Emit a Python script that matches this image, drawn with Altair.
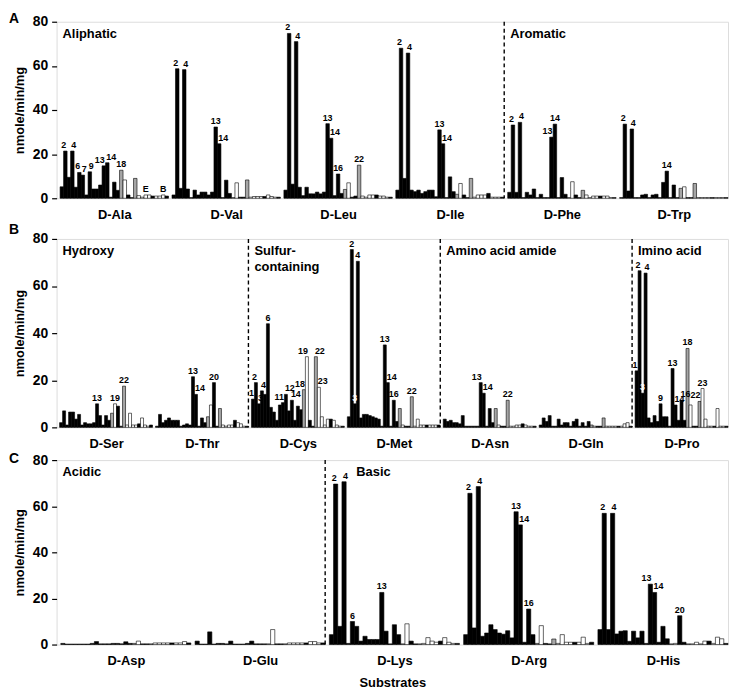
import altair as alt
import pandas as pd

# ---------------- data (nmole/min/mg), 31 enzymes/controls per substrate ----------------
D_ALA = [5.2, 21.4, 9.5, 21.4, 5, 11.7, 10.5, 1.5, 12, 4.2, 4.2, 6, 14.7, 16.1, 0.5, 7.3, 3.6, 12.7, 8.3, 1.5, 0.3, 9, 1.2, 0.5, 1.5, 1.5, 1, 1, 1, 1.5, 1]
D_VAL = [1.5, 58.7, 4.5, 58.3, 4.2, 0.3, 3.7, 1.5, 2.8, 2.8, 1.5, 2.8, 32.3, 24.7, 0.3, 8.2, 2.2, 0.3, 7, 0.5, 0.5, 8.3, 0.5, 0.8, 0.8, 0.8, 0.8, 1.5, 0.8, 0.5, 0.5]
D_LEU = [3.7, 74.7, 6.4, 71, 5, 1.2, 5, 2, 2, 2.8, 2, 2.8, 33.8, 27.2, 1.2, 11, 2.2, 4, 7, 0.5, 1, 15, 1, 0.5, 1.5, 1.5, 1.5, 1, 1, 0.5, 0.5]
D_ILE = [3.7, 68, 9, 65.8, 3.7, 3, 3.7, 2.2, 3, 3.7, 3.7, 0.7, 31, 24.7, 0.3, 9.7, 3, 1.8, 6.7, 1.5, 0.3, 9, 0.5, 1.5, 1.5, 1.5, 2.2, 0.5, 0.5, 0.5, 0.5]
D_PHE = [2.7, 33.2, 2.7, 34.4, 0.3, 2.7, 1.5, 4.2, 0.3, 1.8, 0.3, 0.3, 27.7, 33.6, 0.3, 9.4, 1.8, 0.3, 7.5, 1.5, 0.3, 3.6, 1.5, 0.3, 1, 1, 1, 1, 1, 0.3, 0.3]
D_TRP = [0.3, 33.6, 3.3, 31.4, 0.3, 0.3, 1.5, 1.8, 0.3, 1.5, 1.8, 0.3, 7.2, 12.3, 0.3, 6, 0.3, 4.5, 5.2, 0.3, 0.3, 6.7, 0.3, 0.3, 0.3, 0.3, 0.3, 0.3, 0.3, 0.3, 0.3]

D_SER = [2, 7, 1, 6.5, 6.5, 3.5, 5.5, 1, 2, 1.5, 1.5, 2, 10, 5, 1, 5, 3, 6, 10, 9, 0.5, 17.5, 1, 6, 1, 1, 1.5, 4, 1, 0.5, 1]
D_THR = [0.5, 5.5, 2, 3, 4, 3, 3, 3, 0.5, 1, 1.5, 1, 21.5, 14, 0.5, 4, 2, 4.5, 9.5, 19, 0.5, 8, 1, 0.5, 1, 1, 3, 2, 1.5, 0.5, 0.5]
D_CYS = [12, 19, 10, 15.5, 14, 44, 8.5, 6.5, 3, 9.5, 10.5, 14, 7, 11.5, 3, 9, 7.5, 16, 30, 3, 0.5, 30, 17, 4.5, 1, 3.5, 3.5, 3, 1, 0.5, 0.5]
D_MET = [4.5, 75.5, 10, 70.5, 4, 5.5, 5.5, 5, 4.5, 4, 3.5, 0.5, 35, 19, 0.5, 11.5, 2.5, 8, 1, 0.5, 0.5, 13, 0.5, 3.5, 1, 1, 1, 1, 1, 1, 1]
D_ASN = [3.5, 2.5, 3, 2, 2, 1.5, 5, 0.5, 0.5, 0.5, 0.5, 0.5, 19, 14.5, 0.5, 8, 2, 8, 1, 0.5, 0.5, 11.5, 0.5, 0.5, 1, 1, 1.5, 1, 0.5, 0.5, 0.5]
D_GLN = [1, 4, 2.5, 5, 0.5, 0.5, 3.5, 1, 2, 2, 0.5, 2.5, 3.5, 0.5, 2, 0.5, 2.5, 1, 0.5, 0.5, 0.5, 4, 0.5, 0.5, 0.5, 0.5, 0.5, 0.5, 1.5, 2, 0.5]
D_PRO = [24, 66.5, 14.5, 65.5, 4, 2, 5, 2.5, 10, 4.5, 4.5, 0.5, 25, 9.5, 3, 11.5, 3, 33.5, 9.5, 0.5, 0.5, 11, 16.5, 3.5, 0.5, 0.5, 0.5, 8, 0.5, 0.5, 0.5]

D_ASP = [0.5, 0.2, 0.2, 0.2, 0.2, 0.2, 0.2, 0.5, 1.3, 0.3, 0.3, 0.3, 0.5, 0.5, 0.3, 1.2, 0.5, 0.5, 1.5, 0.3, 0.3, 0.3, 0.7, 0.7, 0.7, 0.7, 0.7, 0.7, 0.7, 1.3, 0.7]
D_GLU = [1.5, 0.2, 0.2, 5.5, 0.2, 0.5, 0.5, 0.3, 1.5, 0.2, 0.2, 0.2, 0.5, 1.5, 0.3, 0.3, 0.3, 0.3, 6.5, 0.3, 0.3, 0.3, 0.7, 0.7, 0.7, 0.7, 0.7, 1.3, 1.3, 0.7, 0.7]
D_LYS = [4.3, 69.6, 7.9, 70.6, 0.5, 10, 7.9, 1.5, 3.6, 2.2, 2.2, 2.2, 22.6, 5.8, 0.3, 8.6, 4.3, 0.3, 9, 1.5, 0.3, 0.3, 0.5, 3, 1.5, 1, 1.5, 3, 1, 0.5, 0.5]
D_ARG = [4.3, 65.6, 7.2, 68.5, 3.6, 5, 8.6, 6.5, 5, 4.5, 6, 2.9, 57.6, 51.9, 1, 15.4, 4.3, 0.5, 8.2, 0.5, 0.3, 2.4, 0.5, 4.3, 1, 1, 1, 1, 3.2, 0.5, 1]
D_HIS = [6.5, 56.9, 6.5, 56.9, 4.6, 5.8, 6, 1.4, 5.8, 2.9, 5.8, 0.5, 26.2, 22.6, 1, 7.9, 2.5, 0.3, 0.5, 12.5, 1, 0.3, 0.3, 1, 0.3, 1.5, 1.5, 0.5, 3.2, 2.5, 0.5]

# enzyme group of each of the 31 bars: b = black, g = grey, w = white
ENZ_CLASS = ["b"] * 17 + ["g", "w", "b", "b", "g", "w", "w", "w", "w", "b", "w", "w", "w", "b"]

# numbered labels above bars
LABELS = {
    "D-Ala": {2: "2", 4: "4", 6: "6", 7: "7", 9: "9", 13: "13", 14: "14", 18: "18", 25: "E", 30: "B"},
    "D-Val": {2: "2", 4: "4", 13: "13", 14: "14"},
    "D-Leu": {2: "2", 4: "4", 13: "13", 14: "14", 16: "16", 22: "22"},
    "D-Ile": {2: "2", 4: "4", 13: "13", 14: "14"},
    "D-Phe": {2: "2", 4: "4", 13: "13", 14: "14"},
    "D-Trp": {2: "2", 4: "4", 14: "14"},
    "D-Ser": {13: "13", 19: "19", 22: "22"},
    "D-Thr": {13: "13", 14: "14", 20: "20"},
    "D-Cys": {1: "1", 2: "2", 3: "3", 4: "4", 6: "6", 11: "11", 12: "12", 14: "14", 18: "18", 19: "19", 22: "22", 23: "23"},
    "D-Met": {2: "2", 3: "3", 4: "4", 13: "13", 14: "14", 16: "16", 22: "22"},
    "D-Asn": {13: "13", 14: "14", 22: "22"},
    "D-Pro": {1: "1", 2: "2", 3: "3", 4: "4", 9: "9", 13: "13", 14: "14", 16: "16", 18: "18", 22: "22", 23: "23"},
    "D-Lys": {2: "2", 4: "4", 6: "6", 13: "13"},
    "D-Arg": {2: "2", 4: "4", 13: "13", 14: "14", 16: "16"},
    "D-His": {2: "2", 4: "4", 13: "13", 14: "14", 20: "20"},
}

PANEL_A = ["D-Ala", "D-Val", "D-Leu", "D-Ile", "D-Phe", "D-Trp"]
PANEL_B = ["D-Ser", "D-Thr", "D-Cys", "D-Met", "D-Asn", "D-Gln", "D-Pro"]
PANEL_C = ["D-Asp", "D-Glu", "D-Lys", "D-Arg", "D-His"]

VALUES = {
    "D-Ala": D_ALA, "D-Val": D_VAL, "D-Leu": D_LEU, "D-Ile": D_ILE, "D-Phe": D_PHE, "D-Trp": D_TRP,
    "D-Ser": D_SER, "D-Thr": D_THR, "D-Cys": D_CYS, "D-Met": D_MET, "D-Asn": D_ASN, "D-Gln": D_GLN,
    "D-Pro": D_PRO, "D-Asp": D_ASP, "D-Glu": D_GLU, "D-Lys": D_LYS, "D-Arg": D_ARG, "D-His": D_HIS,
}

# category names: (name, first substrate group index)
CATS_A = [("Aliphatic", 0), ("Aromatic", 4)]
CATS_B = [("Hydroxy", 0), ("Sulfur-\ncontaining", 2), ("Amino acid amide", 4), ("Imino acid", 6)]
CATS_C = [("Acidic", 0), ("Basic", 2)]

SLOTS = 32
FONT = "Liberation Sans"


def label_placement(labs, vals, k):
    """Return (shift, inside) for the label on bar k: -1 right-aligned, 0 centred, 1 left-aligned."""
    v = vals[k - 1]
    prev_v = vals[k - 2] if k > 1 else 0
    next_v = vals[k] if k < len(vals) else 0
    if prev_v > v + 6 and next_v > v + 6:
        return 0, True
    if prev_v > v + 0.5 and not next_v > v + 0.5:
        return 1, False
    if next_v > v + 0.5 and not prev_v > v + 0.5:
        return -1, False
    reach = 3 if len(labs[k]) > 1 else 2

    def near(j):
        if j not in labs or j < 1 or j > len(vals):
            return False
        if j > 1 and j < len(vals) and vals[j - 2] > vals[j - 1] + 6 and vals[j] > vals[j - 1] + 6:
            return False
        return abs(vals[j - 1] - v) < 5

    if any(near(k - d) for d in range(1, reach + 1)):
        return 1, False
    if any(near(k + d) for d in range(1, reach + 1)):
        return -1, False
    return 0, False


def panel(subs, height, letter, letter_y, cats, title=None, basic_shift=False):
    n = len(subs)
    rows = []
    for g, s in enumerate(subs):
        labs = LABELS.get(s, {})
        vals = VALUES[s]
        for k, v in enumerate(vals, start=1):
            lab = labs.get(k, "")
            shift, inside = label_placement(labs, vals, k) if lab else (0, False)
            rows.append(dict(sub=s, x0=g * SLOTS + k, x1=g * SLOTS + k + 1,
                             xc=g * SLOTS + k + 0.5, value=v,
                             cls=ENZ_CLASS[k - 1], label=lab, shift=shift, inside=inside))
    df = pd.DataFrame(rows)
    xs = alt.Scale(domain=[0, n * SLOTS], nice=False, zero=False)
    ys = alt.Scale(domain=[0, 80], nice=False)
    names = "[" + ",".join("'%s'" % s for s in subs) + "]"
    xaxis = alt.Axis(values=[g * SLOTS + 16.5 for g in range(n)],
                     labelExpr=names + "[floor(datum.value / %d)]" % SLOTS,
                     ticks=False, domain=False, grid=False, labelAngle=0,
                     labelFontSize=13, labelFontWeight="bold", labelPadding=10,
                     labelOverlap=False, labelFlush=False,
                     title=title, titleFontSize=13, titleFontWeight="bold", titlePadding=9)
    yaxis = alt.Axis(values=[0, 20, 40, 60, 80], grid=False, domain=False,
                     tickSize=5, tickWidth=1.2, labelFontSize=14, labelFontWeight="bold",
                     labelPadding=4, title="nmole/min/mg", titleFontSize=13,
                     titleFontWeight="bold", titlePadding=6)

    bars = alt.Chart(df).mark_bar(stroke="black", strokeWidth=0.6).encode(
        x=alt.X("x0:Q", scale=xs, axis=xaxis),
        x2="x1:Q",
        y=alt.Y("value:Q", scale=ys, axis=yaxis),
        y2=alt.datum(0),
        color=alt.Color("cls:N", scale=alt.Scale(domain=["b", "g", "w"],
                                                 range=["#000000", "#a6a6a6", "#ffffff"]),
                        legend=None),
    )
    layers = [bars]
    ldf = df[(df["label"] != "") & (~df["inside"])]
    for sh, al, dx in [(0, "center", 0), (1, "left", -1), (-1, "right", 1)]:
        sub = ldf[ldf["shift"] == sh]
        if len(sub):
            layers.append(alt.Chart(sub).mark_text(fontSize=9, fontWeight="bold", baseline="bottom",
                                                   align=al, dx=dx, dy=-1, color="black").encode(
                x=alt.X("xc:Q", scale=xs), y=alt.Y("value:Q", scale=ys), text="label:N"))
    idf = df[df["inside"]]
    if len(idf):
        layers.append(alt.Chart(idf).mark_text(fontSize=9, fontWeight="bold", baseline="bottom",
                                               align="center", dy=-1, color="white").encode(
            x=alt.X("xc:Q", scale=xs), y=alt.Y("value:Q", scale=ys), text="label:N"))
    seps = [c[1] * SLOTS for c in cats if c[1] > 0]
    layers.append(alt.Chart(pd.DataFrame({"sep": seps})).mark_rule(
        strokeDash=[4, 3], strokeWidth=1.4, color="black").encode(
        x=alt.X("sep:Q", scale=xs), y=alt.value(0), y2=alt.value(height)))
    cdf = pd.DataFrame({"name": [c[0] for c in cats],
                        "pos": [c[1] * SLOTS + (6 if (basic_shift and c[0] == "Basic") else 0) for c in cats]})
    layers.append(alt.Chart(cdf).mark_text(align="left", baseline="middle", fontSize=13,
                                           fontWeight="bold", dx=6, lineBreak="\n",
                                           lineHeight=16, color="black").encode(
        x=alt.X("pos:Q", scale=xs), y=alt.value(12), text="name:N"))
    layers.append(alt.Chart(pd.DataFrame({"t": [letter]})).mark_text(
        align="left", baseline="top", fontSize=14, fontWeight="bold", color="black").encode(
        x=alt.value(-48), y=alt.value(letter_y), text="t:N"))
    return alt.layer(*layers).properties(width=677, height=height)


pa = panel(PANEL_A, 178, "A", -10, CATS_A)
pb = panel(PANEL_B, 190, "B", -16, CATS_B)
pc = panel(PANEL_C, 186, "C", -8, CATS_C, title="Substrates", basic_shift=True)

chart = alt.vconcat(pa, pb, pc, spacing=0).properties(
    padding={"left": 0, "top": 0, "right": 0, "bottom": 0}
).configure_view(stroke="black", strokeWidth=1.5).configure(font=FONT).configure_axis(
    labelColor="black", titleColor="black", tickColor="black", labelFont=FONT, titleFont=FONT
).configure_text(font=FONT)

chart.save("out.html", embed_options={"renderer": "svg", "actions": False})
